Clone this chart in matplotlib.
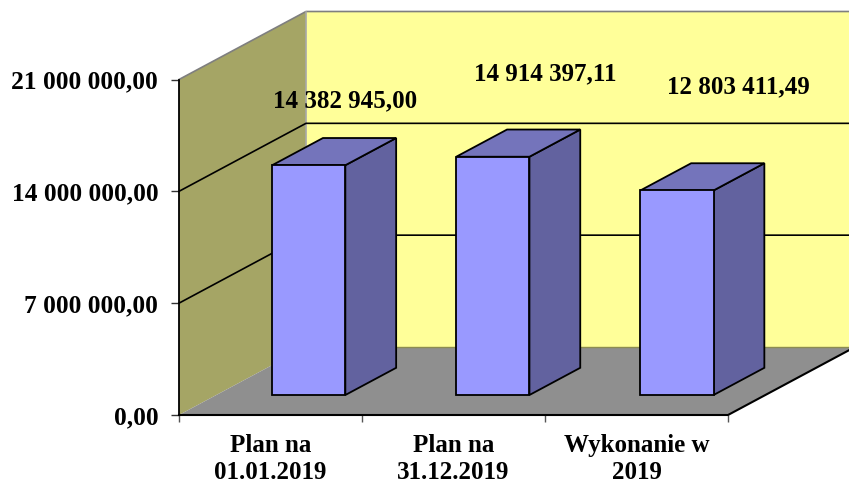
import matplotlib
matplotlib.use("Agg")
import matplotlib.pyplot as plt
from matplotlib.patches import Polygon

categories = ["Plan na\n01.01.2019", "Plan na\n31.12.2019", "Wykonanie w\n2019"]
values = [14382945.00, 14914397.11, 12803411.49]
value_labels = ["14 382 945,00", "14 914 397,11", "12 803 411,49"]
y_ticks = [0, 7000000, 14000000, 21000000]
y_tick_labels = ["0,00", "7 000 000,00", "14 000 000,00", "21 000 000,00"]

W, H = 849, 486
L, R, T, B = 179, 728, 79.5, 415
YMAX = 21000000
DX = 127 / ((R - L) / 3)          # depth shift in category units
DY = 68 / ((B - T) / YMAX)        # depth shift in value units
FS = 18

plt.rcParams["font.family"] = ["Liberation Serif", "DejaVu Serif"]
plt.rcParams["font.weight"] = "bold"

fig = plt.figure(figsize=(W / 100, H / 100), dpi=100)
ax = fig.add_axes([L / W, 1 - B / H, (R - L) / W, (B - T) / H])
ax.set_xlim(0, 3)
ax.set_ylim(0, YMAX)
ax.patch.set_visible(False)


def pt(x, v, d):
    return (x + d * DX, v + d * DY)


def poly(points, fc, ec="none", lw=0.0, z=1):
    ax.add_patch(Polygon(points, closed=True, facecolor=fc, edgecolor=ec,
                         linewidth=lw, zorder=z, clip_on=False, joinstyle="miter"))


# walls and floor
poly([pt(0, 0, 1), pt(3, 0, 1), pt(3, YMAX, 1), pt(0, YMAX, 1)], "#FFFF99", z=1)
poly([pt(0, 0, 0), pt(0, 0, 1), pt(0, YMAX, 1), pt(0, YMAX, 0)], "#A5A565", z=1)
poly([pt(0, 0, 0), pt(3, 0, 0), pt(3, 0, 1), pt(0, 0, 1)], "#8F8F8F", z=2)

EDGE = "#7f7f7f"
ax.plot(*zip(pt(0, YMAX, 0), pt(0, YMAX, 1), pt(3, YMAX, 1)), color=EDGE, lw=1.2, zorder=3, clip_on=False)
ax.plot(*zip(pt(0, 0, 1), pt(0, YMAX, 1)), color="#a8a8a8", lw=1.2, zorder=3, clip_on=False)
ax.plot(*zip(pt(0, 0, 1), pt(3, 0, 1)), color="#8c8c50", lw=1.0, zorder=3, clip_on=False)

# gridlines
for v in y_ticks[1:-1]:
    ax.plot(*zip(pt(0, v, 0), pt(0, v, 1), pt(3, v, 1)), color="black", lw=1.2, zorder=3, clip_on=False)

# floor front edges
ax.plot(*zip(pt(0, 0, 0), pt(3, 0, 0), pt(3, 0, 1)), color="black", lw=1.5, zorder=4, clip_on=False)
ax.plot(*zip(pt(0, 0, 0), pt(0, YMAX, 0)), color="black", lw=1.3, zorder=4, clip_on=False)

# bars
BW, D0, D1, PITCH = 0.4, 0.294, 0.694, 1.006
for i, v in enumerate(values):
    x0 = i * PITCH + 0.305
    x1 = x0 + BW
    poly([pt(x1, 0, D0), pt(x1, 0, D1), pt(x1, v, D1), pt(x1, v, D0)], "#62629F", "black", 1.3, 5)
    poly([pt(x0, v, D0), pt(x1, v, D0), pt(x1, v, D1), pt(x0, v, D1)], "#7474BB", "black", 1.3, 5)
    poly([pt(x0, 0, D0), pt(x1, 0, D0), pt(x1, v, D0), pt(x0, v, D0)], "#9999FF", "black", 1.3, 6)

# value labels
label_px = [(345, 101), (545, 74), (738, 87)]
for s, (px, py) in zip(value_labels, label_px):
    fig.text(px / W, 1 - py / H, s, ha="center", va="center", fontsize=FS,
             fontweight="bold", color="black", zorder=10)

# axes furniture
for s in ax.spines.values():
    s.set_visible(False)
ax.set_yticks(y_ticks)
ax.set_yticklabels(y_tick_labels, fontsize=18.4, fontweight="bold")
ax.set_xticks([0, 1, 2, 3])
ax.set_xticklabels([])
ax.set_xticks([0.5, 1.5, 2.5], minor=True)
ax.set_xticklabels(categories, minor=True, fontsize=FS, fontweight="bold", linespacing=1.2)
ax.tick_params(axis="y", length=6, width=1.0, pad=9, color="#333333")
ax.tick_params(axis="x", which="major", length=5, width=1.0, color="#555555")
ax.tick_params(axis="x", which="minor", length=0, pad=14)

fig.savefig("out.png", dpi=100)
